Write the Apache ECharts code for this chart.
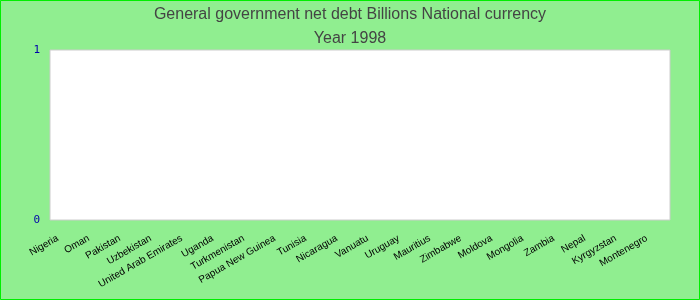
<!DOCTYPE html>
<html><head><meta charset="utf-8">
<script src="https://cdn.jsdelivr.net/npm/echarts@6/dist/echarts.min.js"></script>
<style>html,body{margin:0;padding:0;}#c{width:700px;height:300px;}</style>
</head><body><div id="c"></div>
<script>
const categories = ["Nigeria","Oman","Pakistan","Uzbekistan","United Arab Emirates","Uganda","Turkmenistan","Papua New Guinea","Tunisia","Nicaragua","Vanuatu","Uruguay","Mauritius","Zimbabwe","Moldova","Mongolia","Zambia","Nepal","Kyrgyzstan","Montenegro"];
const values = [0,0,0,0,0,0,0,0,0,0,0,0,0,0,0,0,0,0,0,0];
const yTicks = [0, 1];
const titleText = "General government net debt Billions National currency";
const subText = "Year 1998";

const chart = echarts.init(document.getElementById('c'));
chart.setOption({
  backgroundColor: '#90EE90',
  animation: false,
  graphic: [{type:'rect', shape:{x:0.5,y:0.5,width:699,height:299}, style:{fill:'none', stroke:'#00EE00', lineWidth:1}}],
  title: {
    text: titleText, subtext: subText, left: 'center', top: 2, itemGap: 8,
    textStyle: {fontFamily: 'Liberation Sans', fontSize: 16, fontWeight: 'normal', color: '#444'},
    subtextStyle: {fontFamily: 'Liberation Sans', fontSize: 16, color: '#444'}
  },
  grid: {left: 50, right: 30, top: 50, bottom: 80, show: true, backgroundColor: '#fff', borderColor: '#ccc', borderWidth: 1},
  xAxis: {
    type: 'category', data: categories,
    axisLine: {show: false}, axisTick: {show: false},
    axisLabel: {rotate: 30, interval: 0, fontFamily: 'Liberation Sans', fontSize: 10, color: '#000', margin: 13, padding: [0, 9, 0, 0]}
  },
  yAxis: {
    type: 'value', min: yTicks[0], max: yTicks[yTicks.length-1], interval: 1,
    splitLine: {show: false}, axisLine: {show: false}, axisTick: {show: false},
    axisLabel: {fontFamily: 'DejaVu Sans Mono', fontSize: 11, color: '#0000AA', margin: 10}
  },
  series: [{type: 'bar', data: values, itemStyle: {color: '#4472C4'}}]
});
</script></body></html>
